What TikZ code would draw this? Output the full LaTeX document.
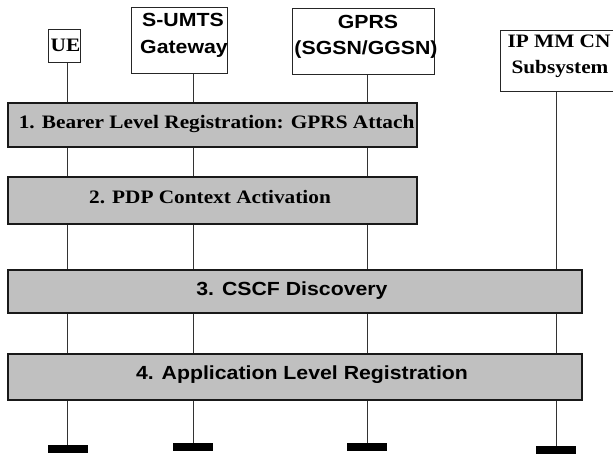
\documentclass[tikz,border=0pt]{standalone}
\usepackage{fontspec}
\usepackage{graphicx}
\newfontfamily\tmsf{Liberation Serif}
\newfontfamily\arlf{Liberation Sans}
\newcommand\hs[1]{\scalebox{1.12}[1]{#1}}
\definecolor{stepgray}{RGB}{192,192,192}
\begin{document}
\begin{tikzpicture}[x=1pt,y=-1pt,
  hbox/.style={draw=black!85, line width=1pt, fill=white, inner sep=0pt},
  stepbox/.style={draw=black!90, line width=1.2pt, fill=stepgray, inner sep=0pt},
  txt/.style={inner sep=0pt, anchor=base, font=\fontsize{19}{26}\selectfont\bfseries},
  life/.style={draw=black!80, line width=0.9pt},
  barbox/.style={fill=black, draw=none, minimum width=40pt, minimum height=8pt, inner sep=0pt}
]
\useasboundingbox (0,0) rectangle (613,455);
% header boxes
\node[hbox, minimum width=32pt, minimum height=33pt] (ue) at (64,45.5) {};
\node[hbox, minimum width=96pt, minimum height=66pt] (sumts) at (179,40) {};
\node[hbox, minimum width=142pt, minimum height=66pt] (gprs) at (363.5,41) {};
\node[hbox, minimum width=120pt, minimum height=61pt] (ipmm) at (560,60.5) {};
% header texts
\node[txt] (ueT) at (65.5,51) {\tmsf\hs{UE}};
\node[txt] (sumtsA) at (183,26.7) {\arlf\hs{S-UMTS}};
\node[txt] (sumtsB) at (184,53.3) {\arlf\hs{Gateway}};
\node[txt] (gprsA) at (368,28) {\arlf\hs{GPRS}};
\node[txt] (gprsB) at (366,54.5) {\arlf\hs{(SGSN/GGSN)}};
\node[txt] (ipmmA) at (559,47) {\tmsf\hs{IP MM CN}};
\node[txt] (ipmmB) at (560,73.3) {\tmsf\hs{Subsystem}};
% bottom bars
\node[barbox] (ueBar) at (67.5,449) {};
\node[barbox] (sumtsBar) at (193,447) {};
\node[barbox] (gprsBar) at (367,447) {};
\node[barbox] (ipmmBar) at (556,450) {};
% lifelines
\draw[life] (ue.south -| ueBar.north) -- (ueBar.north);
\draw[life] (sumts.south -| sumtsBar.north) -- (sumtsBar.north);
\draw[life] (gprs.south -| gprsBar.north) -- (gprsBar.north);
\draw[life] (ipmm.south -| ipmmBar.north) -- (ipmmBar.north);
% step boxes
\node[stepbox, minimum width=409pt, minimum height=44pt] (s1) at (212.5,125) {};
\node[stepbox, minimum width=409pt, minimum height=47pt] (s2) at (212.5,200.5) {};
\node[stepbox, minimum width=574pt, minimum height=43pt] (s3) at (295,291.5) {};
\node[stepbox, minimum width=574pt, minimum height=46pt] (s4) at (295,377) {};
\node[txt] (s1T) at (216.6,128) {\tmsf\hs{1. Bearer Level Registration: GPRS Attach}};
\node[txt] (s2T) at (210,203.3) {\tmsf\hs{2. PDP Context Activation}};
\node[txt] (s3T) at (292,295) {\arlf\hs{3. CSCF Discovery}};
\node[txt] (s4T) at (302,379.3) {\arlf\hs{4. Application Level Registration}};
\end{tikzpicture}
\end{document}
